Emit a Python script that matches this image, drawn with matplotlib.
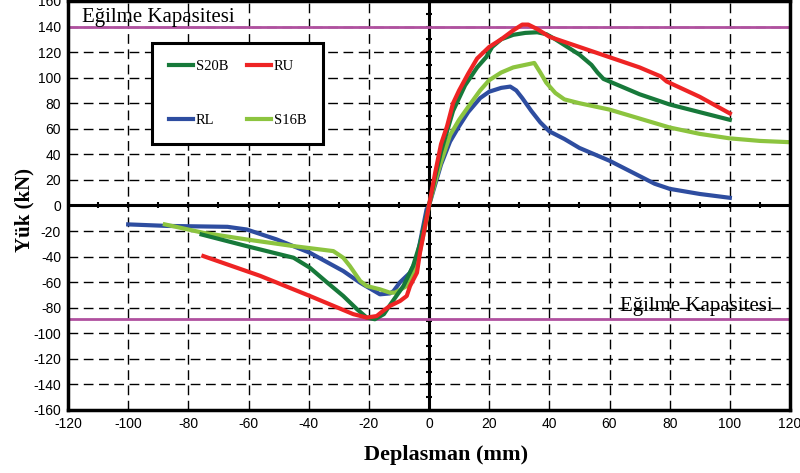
import matplotlib
matplotlib.use("Agg")
import matplotlib.pyplot as plt
import numpy as np

# Yük - deplasman eğrileri (okunan değerler)
s20b_x = [-75.6, -60.6, -45, -39.6, -34, -28.5, -24, -20.7, -18, -15, -13, -10, -8.5, -5.3, -3, 0,
          2, 4, 6, 8, 12, 16, 19, 21, 24, 28, 32, 36, 39, 42, 46, 50, 54, 56, 58, 60, 70, 80, 90, 100]
s20b_y = [-22.7, -31.8, -40.9, -48.7, -60, -70.8, -81, -87.7, -89, -85, -78, -68, -63, -47.4, -30, 0,
          22, 42, 58, 74, 94, 108, 116, 124, 130, 133.5, 135, 135.5, 134, 130, 124, 118, 110, 104, 99, 97, 87, 79, 73, 67]

ru_x = [-75, -56.2, -39.6, -25.2, -20.7, -17.4, -15, -13, -9.6, -7.4, -6.3, -4, -3, 0,
        2, 4, 6, 8, 10, 13, 16, 20, 24, 28, 31, 33, 36, 40, 50, 60, 70, 77, 79, 90, 100]
ru_y = [-39.6, -55, -70.8, -85, -87.7, -86.5, -82, -78.6, -74.7, -70.8, -63, -52.6, -37, 0,
        25, 48, 62, 80, 90, 103, 115, 124, 130, 137, 141.5, 141.5, 138, 132, 124, 116, 108, 101, 97, 85, 72]

rl_x = [-100, -87, -67, -60.6, -50.6, -39.6, -28.5, -22.9, -16.3, -13, -11.8, -9.6, -6.3, -4.1, -0.8, 0,
        2, 4, 7, 10, 13, 17, 20, 24, 27, 29, 31, 34, 37, 40, 45, 50, 60, 70, 75, 80, 90, 100]
rl_y = [-14.8, -16, -16.7, -18.8, -26.6, -37, -51.3, -60.4, -69.5, -68.8, -67, -60, -52.6, -42, -3, 0,
        16, 32, 50, 62, 73, 84, 89, 92, 93, 90, 84, 74, 65, 58, 52, 45, 35, 23, 17, 13, 9, 6]

s16b_x = [-87.8, -75, -60.6, -45, -31.8, -28.5, -26.3, -22.9, -20.7, -16.3, -13, -11.3, -7.4, -4.1, -0.8, 0,
          2, 4, 7, 10, 13, 17, 20, 24, 28, 32, 35, 37, 39, 42, 45, 50, 60, 70, 80, 90, 100, 110, 120]
s16b_y = [-14.8, -21.4, -26.6, -31.8, -35.7, -40.9, -47.4, -59, -63, -65.6, -68.2, -68.2, -63, -48, -11, 0,
          18, 34, 55, 67, 77, 90, 98, 104, 108, 110, 111.5, 104, 96, 88, 83, 80, 75, 68, 61, 56, 52.5, 50.5, 49.5]

kapasite_ust = 140
kapasite_alt = -89

x_ticks = list(range(-120, 121, 20))
y_ticks = list(range(-160, 161, 20))

serif = ['Liberation Serif', 'DejaVu Serif']
narrow = ['Liberation Sans Narrow', 'Liberation Sans', 'DejaVu Sans']

fig = plt.figure(figsize=(8, 4.73), dpi=100)
ax = fig.add_axes([0.085, 0.1332, 0.9025, 0.8648])

# grid
for v in x_ticks[1:-1]:
    if v != 0:
        ax.axvline(v, color='black', lw=1.0, ls=(0, (7, 4)), zorder=1)
for v in y_ticks[1:-1]:
    if v != 0:
        ax.axhline(v, color='black', lw=1.0, ls=(0, (7, 4)), zorder=1)

# eksenler (orta)
ax.axhline(0, color='black', lw=2.2, zorder=2)
ax.axvline(0, color='black', lw=2.2, zorder=2)
minor = np.arange(-110, 120, 10)
ax.plot(minor, np.zeros_like(minor), ls='none', marker='|', ms=5, mew=1.5, color='black', zorder=2)
minor_y = np.arange(-150, 160, 10)
ax.plot(np.zeros_like(minor_y), minor_y, ls='none', marker='_', ms=5, mew=1.5, color='black', zorder=2)

purple = '#B0509F'
ax.axhline(kapasite_ust, color=purple, lw=2.0, zorder=3)
ax.axhline(kapasite_alt, color=purple, lw=2.0, zorder=3)

lw = 3.0
l_rl, = ax.plot(rl_x, rl_y, color='#2E4DA0', lw=lw, label='RL', zorder=4)
l_s16, = ax.plot(s16b_x, s16b_y, color='#8CC43F', lw=lw, label='S16B', zorder=5)
l_s20, = ax.plot(s20b_x, s20b_y, color='#17793A', lw=lw, label='S20B', zorder=6)
l_ru, = ax.plot(ru_x, ru_y, color='#EE2424', lw=lw, label='RU', zorder=7)

ax.text(-115.5, 147, 'Eğilme Kapasitesi', family=serif, fontsize=15, va='center', ha='left', zorder=8)
ax.text(63.5, -79, 'Eğilme Kapasitesi', family=serif, fontsize=15, va='center', ha='left', zorder=8)

ax.set_xlim(-120, 120)
ax.set_ylim(-160, 160)
ax.set_xticks(x_ticks)
ax.set_xticklabels([str(v) for v in x_ticks], family=narrow, fontsize=10)
ax.set_yticks(y_ticks)
ax.set_yticklabels([str(v) for v in y_ticks], family=narrow, fontsize=10)
ax.tick_params(length=0, pad=5)
for s in ax.spines.values():
    s.set_linewidth(2.5)
    s.set_zorder(9)

ax.set_xlabel('Deplasman (mm)', family=serif, fontsize=16, fontweight='bold')
ax.xaxis.set_label_coords((446 - 68) / 722, -0.085)
ax.set_ylabel('Yük (kN)', family=serif, fontsize=15, fontweight='bold')
ax.yaxis.set_label_coords(-0.046, 0.49)

leg = ax.legend(handles=[l_s20, l_rl, l_ru, l_s16], ncol=2, loc='upper left',
                bbox_to_anchor=(0.116, 0.897), prop={'family': serif, 'size': 10.5},
                frameon=True, fancybox=False, edgecolor='black', framealpha=1,
                handlelength=1.65, handletextpad=0.2, columnspacing=1.3,
                labelspacing=2.8, borderpad=1.15, borderaxespad=0)
leg.get_frame().set_linewidth(2.2)
leg.set_zorder(10)

fig.savefig('out.png', dpi=100)
